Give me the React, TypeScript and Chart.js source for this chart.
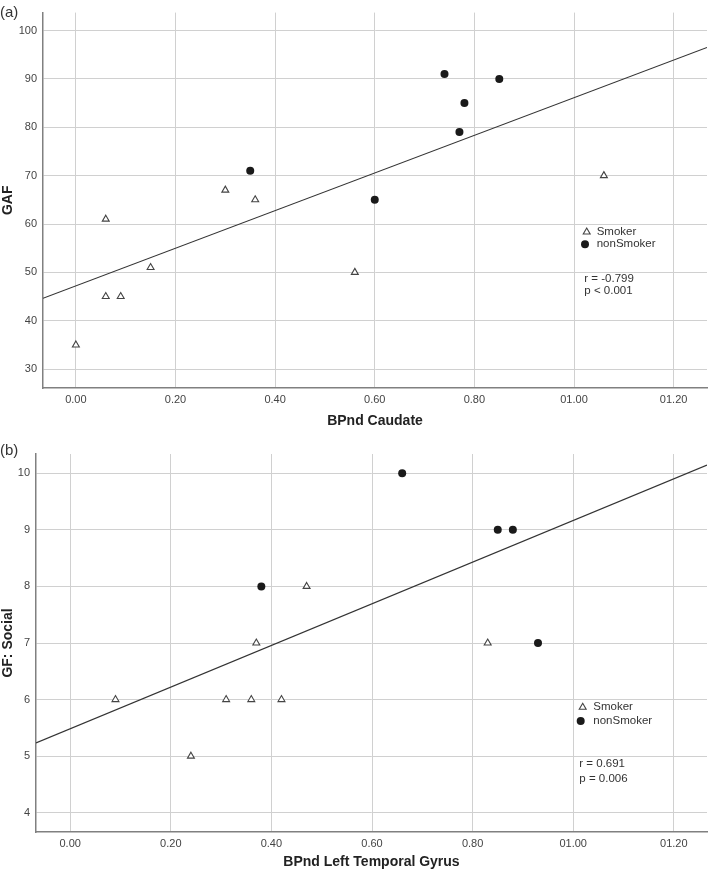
import React, { useEffect, useRef } from "react";
import { Chart, registerables } from "chart.js";

Chart.register(...registerables);

const FONT = '"Liberation Sans", Arial, Helvetica, sans-serif';

// ---------- Panel (a) data ----------
const aSmokerX = [0.0, 0.06, 0.06, 0.09, 0.15, 0.3, 0.36, 0.56, 1.06];
const aSmokerY = [35, 61, 45, 45, 51, 67, 65, 50, 70];
const aNonSmokerX = [0.35, 0.6, 0.74, 0.77, 0.78, 0.85];
const aNonSmokerY = [71, 65, 91, 79, 85, 90];
const aFitIntercept = 47.2;
const aFitSlope = 38.9;
const aXTicks = [0, 0.2, 0.4, 0.6, 0.8, 1.0, 1.2];
const aXTickLabels = ["0.00", "0.20", "0.40", "0.60", "0.80", "01.00", "01.20"];
const aYTicks = [30, 40, 50, 60, 70, 80, 90, 100];
const aXRange = [-0.066, 1.267];
const aYRange = [26.1, 103.7];
const aStats = ["r = -0.799", "p < 0.001"];
const aXTitle = "BPnd Caudate";
const aYTitle = "GAF";

// ---------- Panel (b) data ----------
const bSmokerX = [0.09, 0.24, 0.31, 0.36, 0.42, 0.37, 0.47, 0.83];
const bSmokerY = [6, 5, 6, 6, 6, 7, 8, 7];
const bNonSmokerX = [0.38, 0.66, 0.85, 0.88, 0.93];
const bNonSmokerY = [8, 10, 9, 9, 7];
const bFitIntercept = 5.485;
const bFitSlope = 3.68;
const bXTicks = [0, 0.2, 0.4, 0.6, 0.8, 1.0, 1.2];
const bXTickLabels = ["0.00", "0.20", "0.40", "0.60", "0.80", "01.00", "01.20"];
const bYTicks = [4, 5, 6, 7, 8, 9, 10];
const bXRange = [-0.068, 1.266];
const bYRange = [3.66, 10.34];
const bStats = ["r = 0.691", "p = 0.006"];
const bXTitle = "BPnd Left Temporal Gyrus";
const bYTitle = "GF: Social";

const seriesLabels = ["Smoker", "nonSmoker"];

type Geom = {
  height: number;
  padTop: number;
  padRight: number;
  yAxisWidth: number;
  xAxisHeight: number;
  titlePadBottom: number;
  legend: {
    triX: number;
    triY: number;
    circX: number;
    circY: number;
    textX: number;
    statX: number;
    statY1: number;
    statY2: number;
  };
};

type PanelData = {
  smokerX: number[];
  smokerY: number[];
  nonX: number[];
  nonY: number[];
  intercept: number;
  slope: number;
  xTicks: number[];
  xTickLabels: string[];
  yTicks: number[];
  xRange: number[];
  yRange: number[];
  stats: string[];
  xTitle: string;
  yTitle: string;
};

const TRI_R = 4;
const CIRC_R = 4;

function drawTriangle(ctx: CanvasRenderingContext2D, x: number, y: number, r: number) {
  let rad = 0;
  ctx.beginPath();
  ctx.moveTo(x + Math.sin(rad) * r, y - Math.cos(rad) * r);
  rad += (2 * Math.PI) / 3;
  ctx.lineTo(x + Math.sin(rad) * r, y - Math.cos(rad) * r);
  rad += (2 * Math.PI) / 3;
  ctx.lineTo(x + Math.sin(rad) * r, y - Math.cos(rad) * r);
  ctx.closePath();
}

const legendPlugin = {
  id: "panelLegend",
  afterDatasetsDraw(chart: any, _args: any, opts: any) {
    const ctx: CanvasRenderingContext2D = chart.ctx;
    const L = opts.geom;
    ctx.save();
    drawTriangle(ctx, L.triX, L.triY, TRI_R);
    ctx.fillStyle = "#ffffff";
    ctx.fill();
    ctx.lineWidth = 1.1;
    ctx.strokeStyle = "#444444";
    ctx.stroke();
    ctx.beginPath();
    ctx.arc(L.circX, L.circY, CIRC_R, 0, Math.PI * 2);
    ctx.fillStyle = "#1a1a1a";
    ctx.fill();
    ctx.font = `11.5px ${FONT}`;
    ctx.fillStyle = "#333333";
    ctx.textBaseline = "middle";
    ctx.textAlign = "left";
    ctx.fillText(opts.labels[0], L.textX, L.triY);
    ctx.fillText(opts.labels[1], L.textX, L.circY);
    ctx.fillText(opts.stats[0], L.statX, L.statY1);
    ctx.fillText(opts.stats[1], L.statX, L.statY2);
    ctx.restore();
  },
};

function ScatterPanel({ top, geom, d, tag }: { top: number; geom: Geom; d: PanelData; tag: string }) {
  const ref = useRef<HTMLCanvasElement | null>(null);
  useEffect(() => {
    if (!ref.current) return;
    const smoker = d.smokerX.map((x, i) => ({ x, y: d.smokerY[i] }));
    const non = d.nonX.map((x, i) => ({ x, y: d.nonY[i] }));
    const fit = d.xRange.map((x) => ({ x, y: d.intercept + d.slope * x }));
    const chart = new Chart(ref.current, {
      type: "scatter",
      data: {
        datasets: [
          {
            type: "line",
            label: "fit",
            data: fit,
            showLine: true,
            borderColor: "#333333",
            borderWidth: 1.1,
            pointRadius: 0,
            fill: false,
            order: 3,
          } as any,
          {
            label: seriesLabels[0],
            data: smoker,
            pointStyle: "triangle",
            pointRadius: TRI_R,
            pointBackgroundColor: "#ffffff",
            pointBorderColor: "#444444",
            pointBorderWidth: 1.1,
            order: 1,
          },
          {
            label: seriesLabels[1],
            data: non,
            pointStyle: "circle",
            pointRadius: CIRC_R,
            pointBackgroundColor: "#1a1a1a",
            pointBorderColor: "#1a1a1a",
            pointBorderWidth: 0,
            order: 2,
          },
        ],
      },
      options: {
        responsive: false,
        animation: false,
        events: [],
        layout: {
          autoPadding: false,
          padding: { top: geom.padTop, right: geom.padRight, left: 0, bottom: 0 },
        },
        plugins: {
          legend: { display: false },
          tooltip: { enabled: false },
          panelLegend: { geom: geom.legend, labels: seriesLabels, stats: d.stats },
        } as any,
        scales: {
          x: {
            type: "linear",
            min: d.xRange[0],
            max: d.xRange[1],
            afterBuildTicks: (s: any) => {
              s.ticks = d.xTicks.map((v) => ({ value: v }));
            },
            afterFit: (s: any) => {
              s.height = geom.xAxisHeight;
              s.paddingRight = 0;
              s.paddingLeft = 0;
            },
            ticks: {
              callback: (_v: any, i: number) => d.xTickLabels[i],
              font: { family: FONT, size: 11 },
              color: "#444444",
              padding: 5,
              maxRotation: 0,
              autoSkip: false,
            },
            grid: { color: "#d0d0d0", lineWidth: 1, drawTicks: false },
            border: { display: true, color: "#808080", width: 1.5 },
            title: {
              display: true,
              text: d.xTitle,
              font: { family: FONT, size: 14, weight: "bold" },
              color: "#222222",
              padding: { top: 0, bottom: geom.titlePadBottom },
            },
          },
          y: {
            type: "linear",
            min: d.yRange[0],
            max: d.yRange[1],
            afterBuildTicks: (s: any) => {
              s.ticks = d.yTicks.map((v) => ({ value: v }));
            },
            afterFit: (s: any) => {
              s.width = geom.yAxisWidth;
            },
            ticks: {
              font: { family: FONT, size: 11 },
              color: "#444444",
              padding: 6,
              autoSkip: false,
            },
            grid: { color: "#d0d0d0", lineWidth: 1, drawTicks: false },
            border: { display: true, color: "#808080", width: 1.5 },
            title: {
              display: true,
              text: d.yTitle,
              font: { family: FONT, size: 14, weight: "bold" },
              color: "#222222",
              padding: { top: 0, bottom: 0 },
            },
          },
        },
      },
      plugins: [legendPlugin as any],
    });
    return () => chart.destroy();
  }, []);
  return (
    <>
      <canvas
        ref={ref}
        width={709}
        height={geom.height}
        style={{ position: "absolute", left: 0, top, width: 709, height: geom.height }}
      />
      <div
        style={{
          position: "absolute",
          left: 0,
          top: top + (tag === "(a)" ? 3 : 6),
          font: `15px ${FONT}`,
          color: "#333333",
          lineHeight: "18px",
        }}
      >
        {tag}
      </div>
    </>
  );
}

const geomA: Geom = {
  height: 435,
  padTop: 12,
  padRight: 2,
  yAxisWidth: 43,
  xAxisHeight: 47,
  titlePadBottom: 5.6,
  legend: {
    triX: 586.7,
    triY: 232,
    circX: 585,
    circY: 244.3,
    textX: 596.7,
    statX: 584.3,
    statY1: 279,
    statY2: 291,
  },
};

const geomB: Geom = {
  height: 434,
  padTop: 19,
  padRight: 2,
  yAxisWidth: 36,
  xAxisHeight: 37,
  titlePadBottom: -2,
  legend: {
    triX: 582.7,
    triY: 707.3 - 435,
    circX: 580.7,
    circY: 721 - 435,
    textX: 593.3,
    statX: 579.3,
    statY1: 764.3 - 435,
    statY2: 779 - 435,
  },
};

const dataA: PanelData = {
  smokerX: aSmokerX,
  smokerY: aSmokerY,
  nonX: aNonSmokerX,
  nonY: aNonSmokerY,
  intercept: aFitIntercept,
  slope: aFitSlope,
  xTicks: aXTicks,
  xTickLabels: aXTickLabels,
  yTicks: aYTicks,
  xRange: aXRange,
  yRange: aYRange,
  stats: aStats,
  xTitle: aXTitle,
  yTitle: aYTitle,
};

const dataB: PanelData = {
  smokerX: bSmokerX,
  smokerY: bSmokerY,
  nonX: bNonSmokerX,
  nonY: bNonSmokerY,
  intercept: bFitIntercept,
  slope: bFitSlope,
  xTicks: bXTicks,
  xTickLabels: bXTickLabels,
  yTicks: bYTicks,
  xRange: bXRange,
  yRange: bYRange,
  stats: bStats,
  xTitle: bXTitle,
  yTitle: bYTitle,
};

export default function App() {
  return (
    <div
      style={{
        position: "absolute",
        left: 0,
        top: 0,
        width: 709,
        height: 869,
        background: "#ffffff",
        overflow: "hidden",
      }}
    >
      <ScatterPanel top={0} geom={geomA} d={dataA} tag="(a)" />
      <ScatterPanel top={435} geom={geomB} d={dataB} tag="(b)" />
    </div>
  );
}
